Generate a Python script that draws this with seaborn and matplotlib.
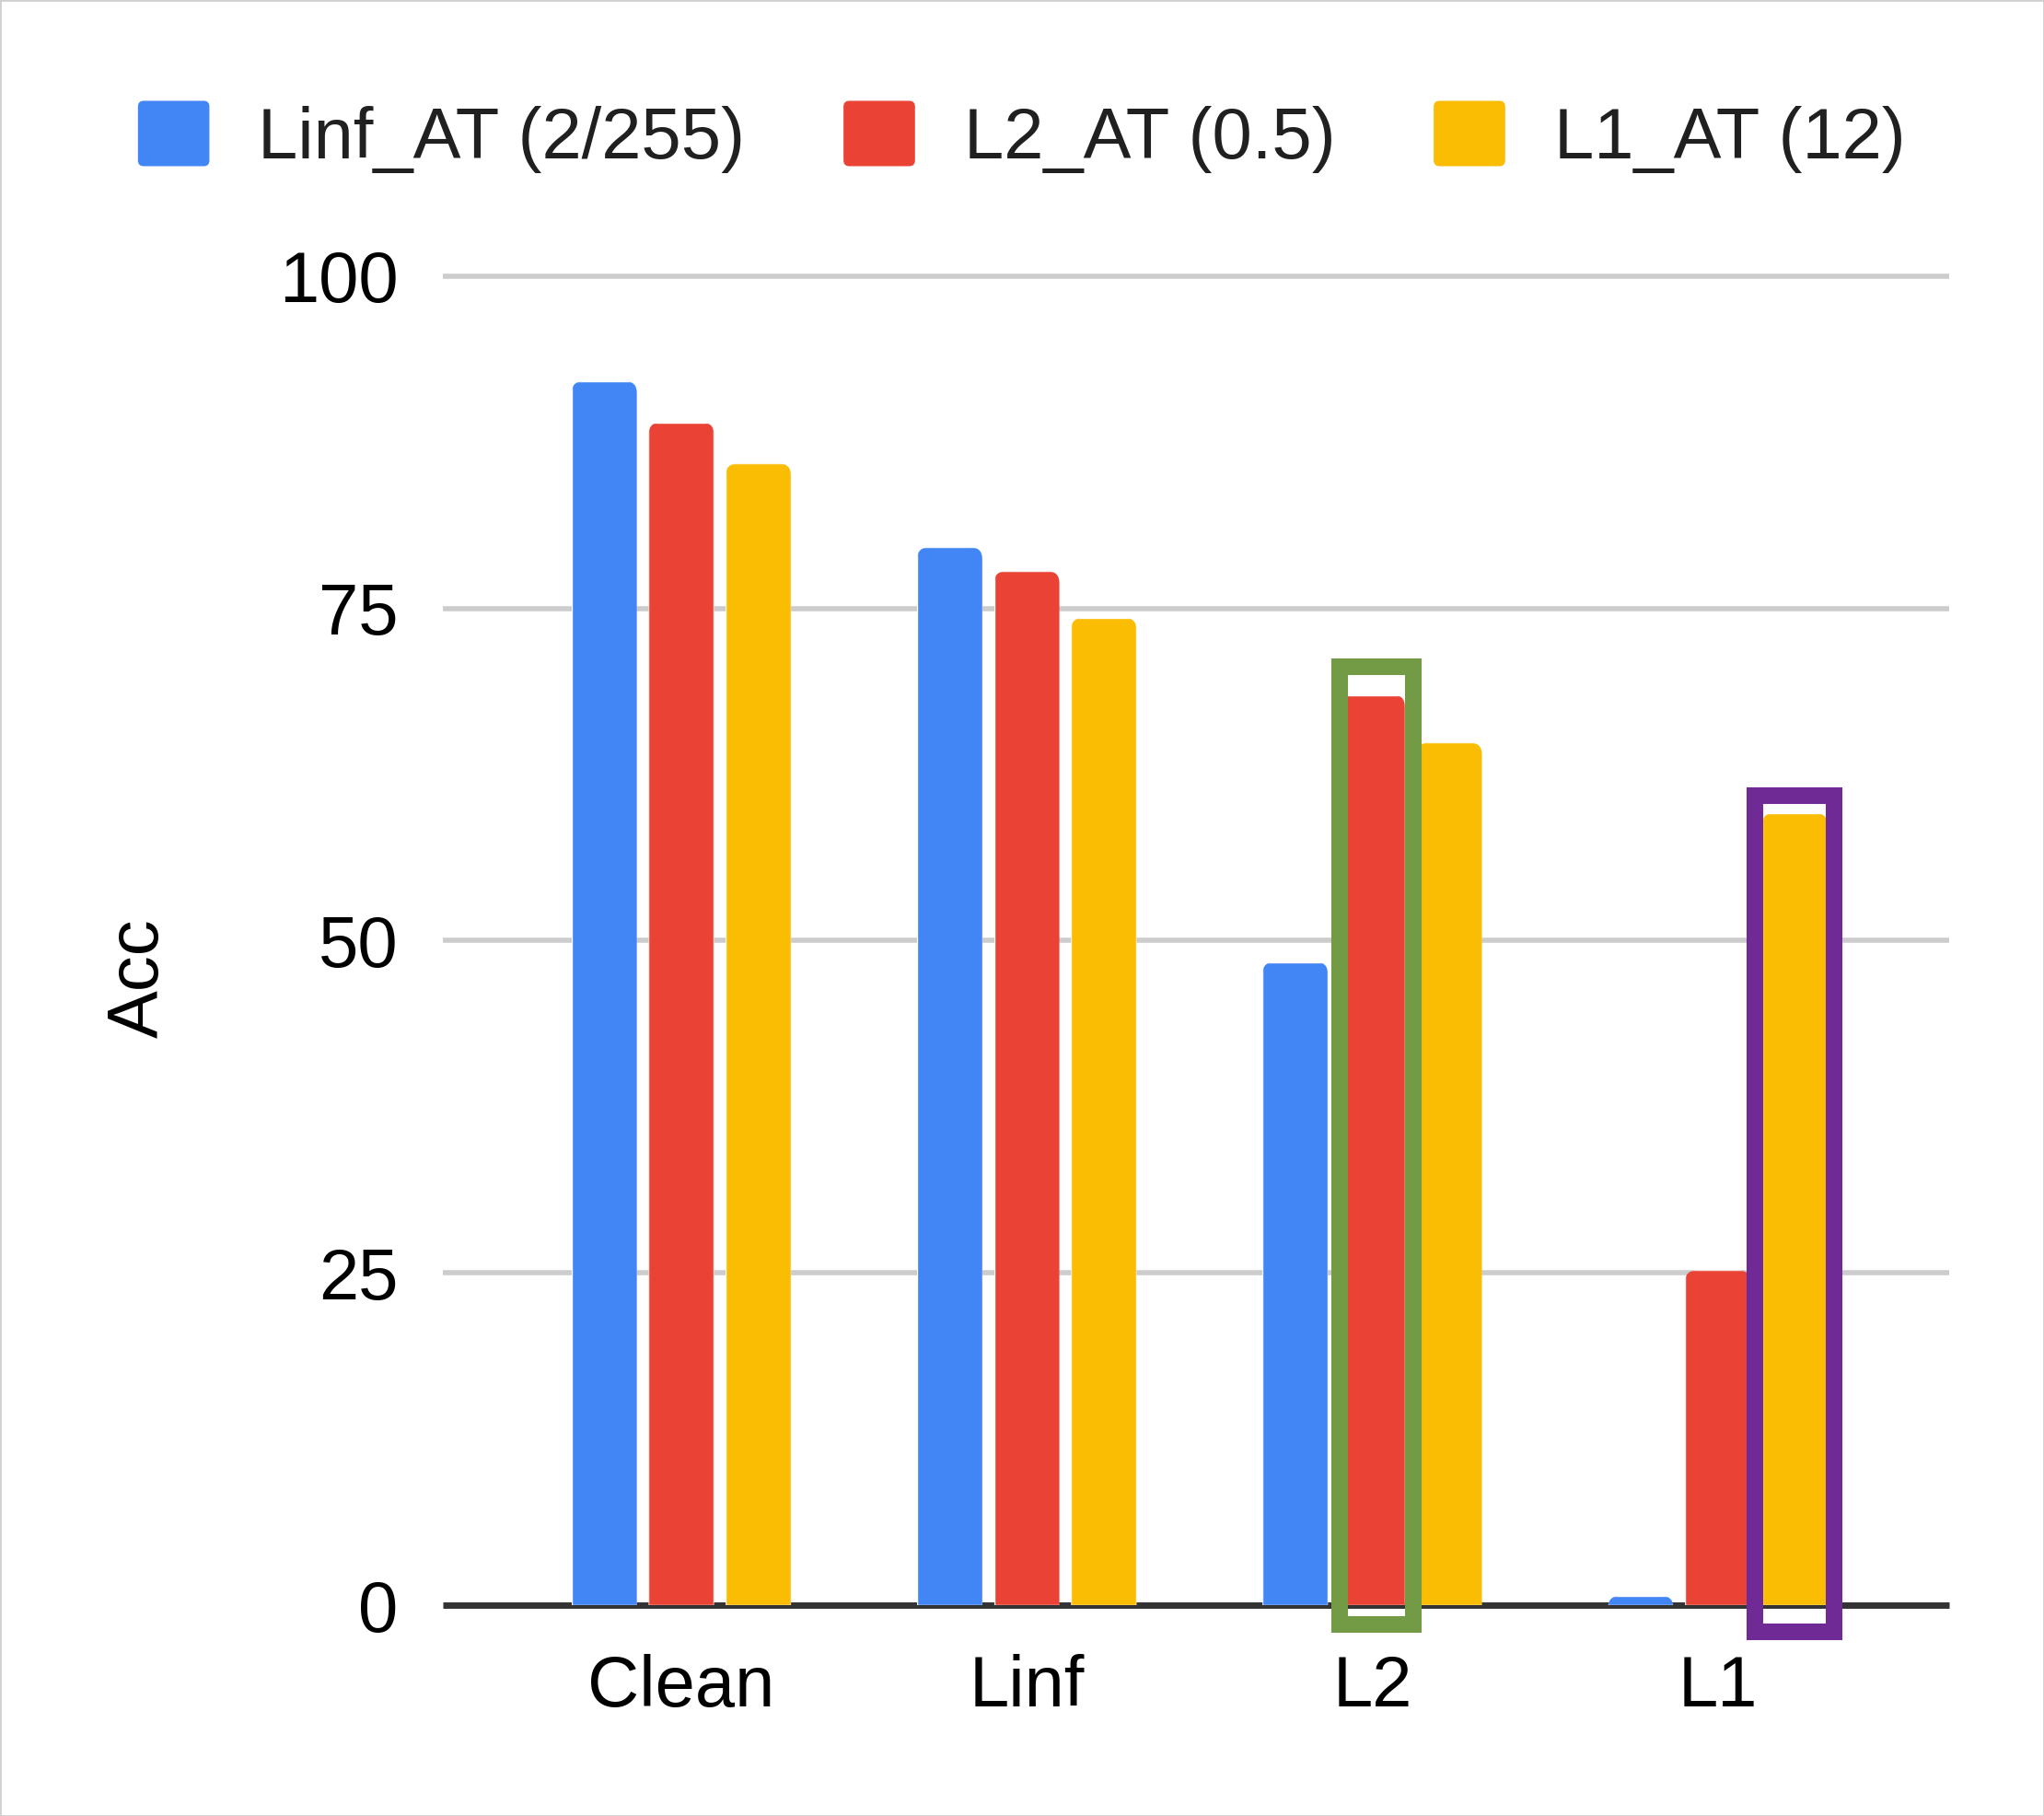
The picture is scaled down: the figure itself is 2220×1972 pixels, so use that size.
import pandas as pd
import matplotlib
matplotlib.use("Agg")
import matplotlib.pyplot as plt
import matplotlib.patches as mpatches
from matplotlib.legend_handler import HandlerPatch
import seaborn as sns

# data
attacks = ["Clean", "Linf", "L2", "L1"]
models = ["Linf_AT (2/255)", "L2_AT (0.5)", "L1_AT (12)"]
linf_at = [92.1, 79.6, 48.4, 0.7]
l2_at = [89.0, 77.8, 68.5, 25.2]
l1_at = [85.9, 74.3, 64.9, 59.6]
colors = ["#4285f4", "#ea4335", "#fbbc04"]
y_ticks = [0, 25, 50, 75, 100]

rows = []
for model, vals in zip(models, [linf_at, l2_at, l1_at]):
    for attack, v in zip(attacks, vals):
        rows.append({"attack": attack, "model": model, "acc": v})
df = pd.DataFrame(rows)

sns.set_theme(style="white")
plt.rcParams["font.family"] = ["Liberation Sans", "DejaVu Sans"]

fig = plt.figure(figsize=(22.2, 19.72), dpi=100)
ax = fig.add_axes([0.2167, 0.1161, 0.7369, 0.7318])

sns.barplot(data=df, x="attack", y="acc", hue="model", hue_order=models,
            order=attacks, palette=colors, saturation=1, width=0.669, gap=0.152,
            errorbar=None, legend=False, ax=ax, zorder=3)

ax.set_xlim(-0.69, 3.67)
ax.set_ylim(0, 100)
ax.set_yticks(y_ticks)
for t in y_ticks[1:]:
    ax.axhline(t, color="#cccccc", lw=4, zorder=1, clip_on=False, solid_capstyle="butt")
ax.axhline(0, color="#333333", lw=5, zorder=2, clip_on=False, solid_capstyle="butt")
for s in ax.spines.values():
    s.set_visible(False)
ax.tick_params(axis="y", length=0, pad=35, labelsize=56, labelcolor="black")
ax.tick_params(axis="x", length=0, pad=38, labelsize=56, labelcolor="black")
ax.set_xlabel("")
ax.set_ylabel("Acc", fontsize=56, color="black")
ax.yaxis.set_label_coords(-0.179, 0.472)

# rounded top corners: clip each bar with a rounded box that reaches below 0
rx, ry = 0.035, 0.9
for cont in ax.containers:
    for bar in cont:
        clip = mpatches.FancyBboxPatch(
            (bar.get_x(), -3), bar.get_width(), bar.get_height() + 3,
            boxstyle=f"round,pad=0,rounding_size={rx}", mutation_aspect=ry / rx,
            transform=ax.transData)
        bar.set_clip_path(clip)

# highlight boxes around L2_AT on L2 and L1_AT on L1
def box_around(bar, pad_x, shift, pad_top, pad_bot, color):
    x0 = bar.get_x() - pad_x + shift
    w = bar.get_width() + 2 * pad_x
    y0 = -pad_bot
    h = bar.get_height() + pad_top + pad_bot
    ax.add_patch(mpatches.Rectangle((x0, y0), w, h, fill=False, edgecolor=color,
                                    lw=13, clip_on=False, zorder=5, joinstyle="miter"))

box_around(ax.containers[1][2], 0.013, 0.012, 2.1, 1.45, "#739b46")
box_around(ax.containers[2][3], 0.02, 0.0, 1.3, 2.0, "#702a96")


def round_handle(legend, orig_handle, xdescent, ydescent, width, height, fontsize):
    return mpatches.FancyBboxPatch((-xdescent, -ydescent), width, height,
                                   boxstyle="round,pad=0,rounding_size=4")


handles = [mpatches.Patch(color=c, label=m) for c, m in zip(colors, models)]
fig.legend(handles=handles, loc="center", bbox_to_anchor=(0.5, 0.9245), ncol=3,
           frameon=False, fontsize=56, handlelength=0.98, handleheight=1.0,
           handletextpad=0.69, columnspacing=1.38, labelcolor="#202020",
           handler_map={mpatches.Patch: HandlerPatch(patch_func=round_handle)})

fig.patches.append(mpatches.Rectangle((0, 0), 1, 1, transform=fig.transFigure,
                                      fill=False, edgecolor="#d0d0d0", lw=2))

fig.savefig("out.png", dpi=100, facecolor="white")
